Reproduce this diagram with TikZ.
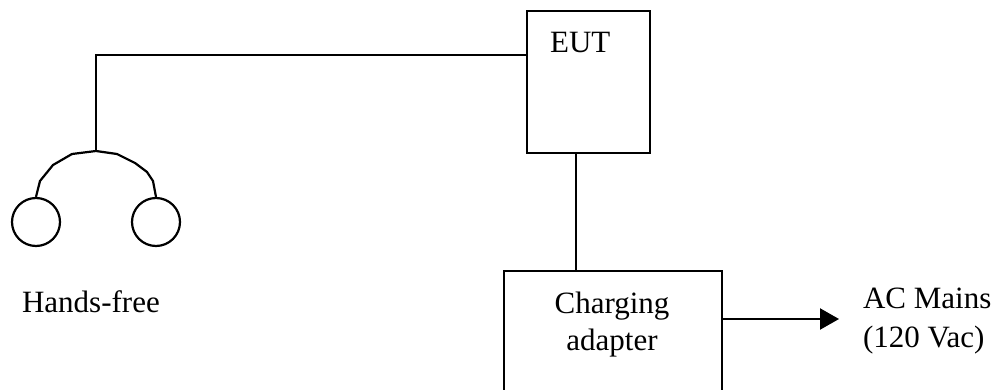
\documentclass[tikz,border=0pt]{standalone}
\usepackage{fontspec}
\setmainfont{Liberation Serif}
\usetikzlibrary{arrows.meta}
\begin{document}
\begin{tikzpicture}[x=1pt,y=1pt,
  line width=2.2pt,
  lbl/.style={font=\fontsize{31}{37}\selectfont, inner sep=0pt},
  boxed/.style={draw, rectangle, inner sep=0pt},
  ear/.style={draw, circle, minimum size=48pt, inner sep=0pt}]
\useasboundingbox (0,0) rectangle (992,-390);
\clip (0,0) rectangle (992,-390);
% boxes
\node[boxed, minimum width=123pt, minimum height=142pt] (eut) at (588.5,-82) {};
\node[boxed, minimum width=218pt, minimum height=139pt] (adp) at (613,-340.5) {};
% texts
\node[lbl, anchor=base west] (eutl) at (549,-53) {EUT};
\node[lbl, anchor=base] (chg) at (612,-313) {Charging};
\node[lbl, anchor=base] (adt) at (612,-350) {adapter};
\node[lbl, anchor=base west] (ac1) at (862,-308) {AC Mains};
\node[lbl, anchor=base west] (ac2) at (862,-347) {(120 Vac)};
\node[lbl, anchor=base west] (hf) at (21,-312) {Hands-free};
% hands-free
\node[ear] (earL) at (36,-222) {};
\node[ear] (earR) at (156,-222) {};
\coordinate (j) at (96,-151);
\coordinate (e1) at (eut.west |- 0,-55);
\draw (earL.north) -- (40,-181) -- (53,-165) -- (72,-154) -- (j)
      -- (117,-154) -- (135,-163) -- (147,-172) -- (153,-181) -- (earR.north);
\draw (j) |- (e1);
% EUT to adapter
\coordinate (d1) at ([xshift=-12.5pt]eut.south);
\draw (d1) -- (d1 |- adp.north);
% to mains
\coordinate (m1) at (adp.east |- 0,-319);
\coordinate (m2) at (839,-319);
\draw[-{Triangle[length=19pt,width=21pt]}] (m1) -- (m2);
\end{tikzpicture}
\end{document}
